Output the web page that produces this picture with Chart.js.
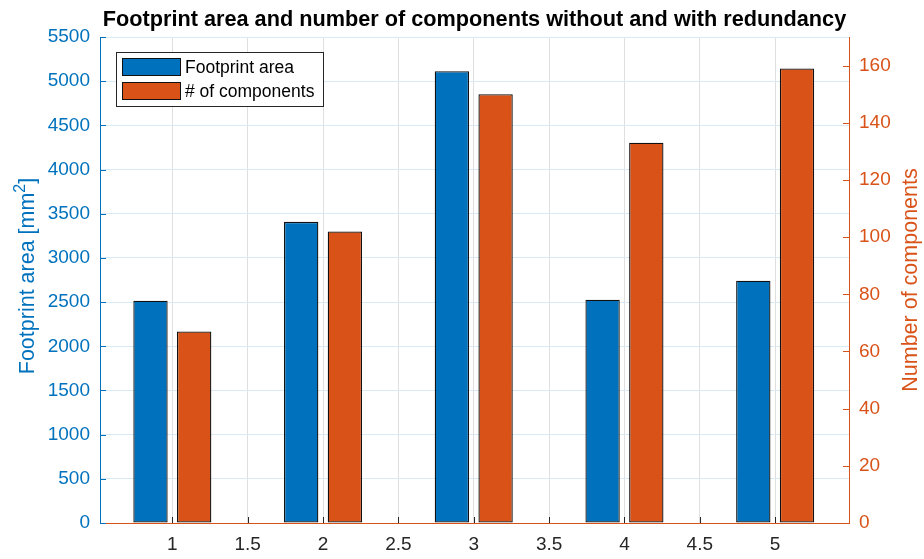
<!DOCTYPE html>
<html>
<head>
<meta charset="utf-8">
<script src="https://cdn.jsdelivr.net/npm/chart.js@4"></script>
<style>
  html, body { margin: 0; padding: 0; background: #ffffff; }
  #chart { display: block; }
</style>
</head>
<body>
<canvas id="chart" width="924" height="559"></canvas>
<script>
// Categories on the x axis
const categories = [1, 2, 3, 4, 5];
// Footprint area per configuration [mm^2] (left axis)
const footprintArea = [2515, 3408, 5113, 2526, 2741];
// Number of components per configuration (right axis)
const componentCount = [67, 102, 150, 133, 159];
// Tick positions
const xTicks = [1, 1.5, 2, 2.5, 3, 3.5, 4, 4.5, 5];
const areaTicks = [0, 500, 1000, 1500, 2000, 2500, 3000, 3500, 4000, 4500, 5000, 5500];
const countTicks = [0, 20, 40, 60, 80, 100, 120, 140, 160];

const seriesNames = ['Footprint area', '# of components'];
const BLUE = '#0072BD';
const ORANGE = '#D95319';
const DARK = '#262626';
const FONT = '"Liberation Sans", Arial, Helvetica, sans-serif';

const toPoints = (vals) => categories.map((c, i) => ({ x: c, y: vals[i] }));

// Draws inward tick marks, title, axis titles and the legend box
const decor = {
  id: 'decor',
  beforeDatasetsDraw(chart) {
    const { ctx, chartArea: a, scales } = chart;
    const len = 6;
    ctx.save();
    ctx.lineWidth = 1;
    ctx.strokeStyle = BLUE;
    ctx.beginPath();
    scales.y.ticks.forEach(t => {
      const py = Math.round(scales.y.getPixelForValue(t.value)) + 0.5;
      ctx.moveTo(a.left, py); ctx.lineTo(a.left + len, py);
    });
    ctx.stroke();
    ctx.strokeStyle = ORANGE;
    ctx.beginPath();
    scales.y1.ticks.forEach(t => {
      const py = Math.round(scales.y1.getPixelForValue(t.value)) + 0.5;
      ctx.moveTo(a.right - len, py); ctx.lineTo(a.right, py);
    });
    ctx.stroke();
    ctx.strokeStyle = DARK;
    ctx.beginPath();
    scales.x.ticks.forEach(t => {
      const px = Math.round(scales.x.getPixelForValue(t.value)) + 0.5;
      ctx.moveTo(px, a.bottom); ctx.lineTo(px, a.bottom - len);
    });
    ctx.stroke();
    ctx.restore();
  },
  afterDraw(chart) {
    const { ctx, chartArea: a } = chart;
    const midY = (a.top + a.bottom) / 2;
    ctx.save();
    // Title
    ctx.fillStyle = '#000000';
    ctx.font = 'bold 21.7px ' + FONT;
    ctx.textAlign = 'center';
    ctx.textBaseline = 'alphabetic';
    ctx.fillText('Footprint area and number of components without and with redundancy', (a.left + a.right) / 2, 26);

    // Left axis title with a raised exponent, reading bottom to top
    const mainFont = '21.5px ' + FONT;
    const supFont = '16px ' + FONT;
    const parts = [
      { t: 'Footprint area [mm', f: mainFont, dy: 0 },
      { t: '2', f: supFont, dy: -9 },
      { t: ']', f: mainFont, dy: 0 }
    ];
    let total = 0;
    parts.forEach(p => { ctx.font = p.f; p.w = ctx.measureText(p.t).width; total += p.w; });
    ctx.fillStyle = BLUE;
    ctx.textAlign = 'left';
    ctx.save();
    ctx.translate(34, midY - 4);
    ctx.rotate(-Math.PI / 2);
    let cx = -total / 2;
    parts.forEach(p => { ctx.font = p.f; ctx.fillText(p.t, cx, p.dy); cx += p.w; });
    ctx.restore();

    // Right axis title, reading bottom to top
    ctx.font = mainFont;
    ctx.textAlign = 'center';
    ctx.fillStyle = ORANGE;
    ctx.save();
    ctx.translate(917, midY);
    ctx.rotate(-Math.PI / 2);
    ctx.fillText('Number of components', 0, 0);
    ctx.restore();

    // Legend
    const lx = 116, ly = 52, lw = 207, lh = 54;
    ctx.fillStyle = '#ffffff';
    ctx.fillRect(lx, ly, lw, lh);
    ctx.strokeStyle = DARK;
    ctx.lineWidth = 1;
    ctx.strokeRect(lx + 0.5, ly + 0.5, lw, lh);
    ctx.font = '17.5px ' + FONT;
    ctx.textAlign = 'left';
    ctx.textBaseline = 'middle';
    chart.data.datasets.forEach((ds, i) => {
      const sy = 58 + i * 24;
      ctx.fillStyle = ds.backgroundColor;
      ctx.fillRect(122, sy, 59, 18);
      ctx.strokeStyle = '#111111';
      ctx.strokeRect(122.5, sy + 0.5, 58, 17);
      ctx.fillStyle = '#000000';
      ctx.fillText(ds.label, 185, sy + 10);
    });
    ctx.restore();
  }
};

const barStyle = {
  borderColor: '#111111',
  borderWidth: 1.3,
  borderSkipped: false,
  categoryPercentage: 1.16,
  barPercentage: 0.786
};

const chart = new Chart(document.getElementById('chart'), {
  type: 'bar',
  data: {
    datasets: [
      Object.assign({
        label: seriesNames[0],
        data: toPoints(footprintArea),
        yAxisID: 'y',
        backgroundColor: BLUE
      }, barStyle),
      Object.assign({
        label: seriesNames[1],
        data: toPoints(componentCount),
        yAxisID: 'y1',
        backgroundColor: ORANGE
      }, barStyle)
    ]
  },
  options: {
    responsive: false,
    animation: false,
    devicePixelRatio: 1,
    layout: { padding: { top: 37, left: 0, right: 0, bottom: 0 } },
    plugins: {
      legend: { display: false },
      title: { display: false },
      tooltip: { enabled: false }
    },
    scales: {
      x: {
        type: 'linear',
        offset: false,
        min: 0.52,
        max: 5.49,
        afterBuildTicks: s => { s.ticks = xTicks.map(v => ({ value: v })); },
        afterFit: s => { s.height = 36; },
        grid: { offset: false, color: '#dfdfdf', drawTicks: false },
        border: { display: true, color: ORANGE, width: 1 },
        ticks: {
          color: DARK,
          font: { family: FONT, size: 19 },
          padding: 10,
          maxRotation: 0,
          autoSkip: false,
          callback: v => String(v)
        }
      },
      y: {
        type: 'linear',
        position: 'left',
        min: 0,
        max: 5500,
        afterBuildTicks: s => { s.ticks = areaTicks.map(v => ({ value: v })); },
        afterFit: s => { s.width = 100; },
        grid: {
          color: c => (c.tick && c.tick.value === 0) ? 'rgba(0,0,0,0)' : 'rgb(217,234,245)',
          drawTicks: false
        },
        border: { display: true, color: BLUE, width: 1 },
        ticks: {
          color: BLUE,
          font: { family: FONT, size: 19 },
          padding: 10,
          autoSkip: false,
          callback: v => String(v)
        }
      },
      y1: {
        type: 'linear',
        position: 'right',
        min: 0,
        max: 170,
        afterBuildTicks: s => { s.ticks = countTicks.map(v => ({ value: v })); },
        afterFit: s => { s.width = 75; },
        grid: { drawOnChartArea: false, drawTicks: false },
        border: { display: true, color: ORANGE, width: 1 },
        ticks: {
          color: ORANGE,
          font: { family: FONT, size: 19 },
          padding: 10,
          autoSkip: false,
          callback: v => String(v)
        }
      }
    }
  },
  plugins: [decor]
});
</script>
</body>
</html>
